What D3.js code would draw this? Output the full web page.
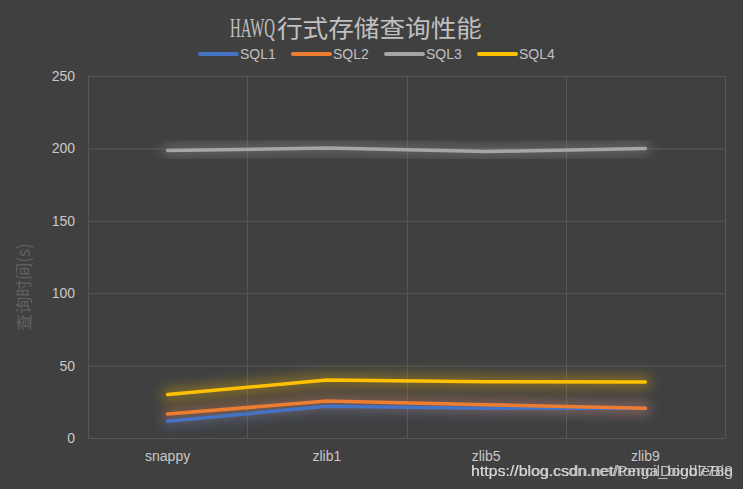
<!DOCTYPE html>
<html><head><meta charset="utf-8">
<script src="https://cdn.jsdelivr.net/npm/d3@7/dist/d3.min.js"></script>
<style>html,body{margin:0;padding:0;background:#404040;overflow:hidden}</style>
</head><body><svg id="c" width="743" height="489"></svg>
<script>
const categories = ["snappy", "zlib1", "zlib5", "zlib9"];
const seriesNames = ["SQL1", "SQL2", "SQL3", "SQL4"];
const sql1 = [11.5, 22, 20.5, 20.5];
const sql2 = [16.5, 25.5, 23, 20.5];
const sql3 = [198.5, 200.3, 197.8, 200];
const sql4 = [30, 40, 38.8, 38.6];
const yTicks = [0, 50, 100, 150, 200, 250];
const colors = ["#4472c4", "#ed7d31", "#a5a5a5", "#ffc000"];
const seriesValues = [sql1, sql2, sql3, sql4];

const svg = d3.select("#c");
svg.append("rect").attr("width", 743).attr("height", 489).attr("fill", "#404040");

const pLeft = 88, pRight = 725, pTop = 76, pBottom = 438;
const x = d3.scaleBand().domain(categories).range([pLeft, pRight]);
const y = d3.scaleLinear().domain([0, 250]).range([pBottom, pTop]);

const defs = svg.append("defs");
colors.forEach((c, i) => {
  const f = defs.append("filter").attr("id", "glow" + i)
    .attr("x", "-20%").attr("y", "-200%").attr("width", "140%").attr("height", "500%");
  f.append("feGaussianBlur").attr("in", "SourceGraphic").attr("stdDeviation", 6);
});

// grid
const g = svg.append("g");
g.selectAll("line.h").data(yTicks).join("line")
  .attr("x1", pLeft).attr("x2", pRight)
  .attr("y1", d => y(d) + 0.5).attr("y2", d => y(d) + 0.5)
  .attr("stroke", "#575757").attr("stroke-width", 1);
const vb = categories.map(c => x(c)).concat([pRight]);
g.selectAll("line.v").data(vb).join("line")
  .attr("x1", d => Math.round(d) + 0.5).attr("x2", d => Math.round(d) + 0.5)
  .attr("y1", pTop).attr("y2", pBottom)
  .attr("stroke", "#575757").attr("stroke-width", 1);

// y tick labels
svg.append("g").selectAll("text").data(yTicks).join("text")
  .attr("x", 75).attr("y", d => y(d)).attr("dy", "0.35em")
  .attr("text-anchor", "end")
  .attr("font-family", "Liberation Sans, Arial, sans-serif").attr("font-size", 14)
  .attr("fill", "#c8c8c8").text(d => d);

// x labels
svg.append("g").selectAll("text").data(categories).join("text")
  .attr("x", d => x(d) + x.bandwidth() / 2).attr("y", 461)
  .attr("text-anchor", "middle")
  .attr("font-family", "Liberation Sans, Arial, sans-serif").attr("font-size", 14)
  .attr("fill", "#c8c8c8").text(d => d);

// lines
const line = d3.line().x((d, i) => x(categories[i]) + x.bandwidth() / 2).y(d => y(d));
seriesValues.forEach((vals, i) => {
  svg.append("path").datum(vals).attr("d", line)
    .attr("fill", "none").attr("stroke", colors[i]).attr("stroke-width", 12)
    .attr("stroke-opacity", 0.35).attr("stroke-linecap", "round")
    .attr("filter", "url(#glow" + i + ")");
});
seriesValues.forEach((vals, i) => {
  svg.append("path").datum(vals).attr("d", line)
    .attr("fill", "none").attr("stroke", colors[i]).attr("stroke-width", 3.5)
    .attr("stroke-linecap", "round").attr("stroke-linejoin", "round");
});

// title
svg.append("text").attr("x", 230).attr("y", 37)
  .attr("font-size", 27).attr("fill", "#c0c0c0")
  .attr("font-family", "Liberation Serif, serif").attr("textLength", 45)
  .attr("lengthAdjust", "spacingAndGlyphs").text("HAWQ");
svg.append("text").attr("x", 277).attr("y", 37)
  .attr("font-size", 24).attr("fill", "#c0c0c0")
  .attr("font-family", "Noto Sans CJK SC, sans-serif").attr("textLength", 205)
  .attr("lengthAdjust", "spacingAndGlyphs").text("行式存储查询性能");

// legend
const legX = [200, 293, 386, 479];
const leg = svg.append("g").selectAll("g").data(seriesNames).join("g")
  .attr("transform", (d, i) => `translate(${legX[i]},54)`);
leg.append("line").attr("x1", 0).attr("x2", 37).attr("y1", 0).attr("y2", 0)
  .attr("stroke", (d, i) => colors[i]).attr("stroke-width", 4).attr("stroke-linecap", "round");
leg.append("text").attr("x", 40).attr("y", 0).attr("dy", "0.36em")
  .attr("font-family", "Liberation Sans, Arial, sans-serif").attr("font-size", 14)
  .attr("fill", "#c0c0c0").text(d => d);

// y axis title
svg.append("text").attr("transform", "translate(30,287) rotate(-90)")
  .attr("text-anchor", "middle")
  .attr("font-family", "Noto Sans CJK SC, sans-serif").attr("font-size", 17)
  .attr("fill", "#606060").text("查询时间(s)");

// watermark (two overlapping copies, as in the reference)
svg.append("text").attr("x", 471).attr("y", 476)
  .attr("font-family", "Liberation Sans, Arial, sans-serif").attr("font-size", 15)
  .attr("textLength", 262).attr("lengthAdjust", "spacingAndGlyphs")
  .attr("fill", "#d8d8d8").attr("opacity", 0.85).text("https://blog.csdn.net/PencilDoubleBig");
svg.append("text").attr("x", 471).attr("y", 476)
  .attr("font-family", "Liberation Sans, Arial, sans-serif").attr("font-size", 15)
  .attr("textLength", 262).attr("lengthAdjust", "spacingAndGlyphs")
  .attr("fill", "#d8d8d8").attr("opacity", 0.85).text("https://blog.csdn.net/tonga_bigd7788");
</script></body></html>
